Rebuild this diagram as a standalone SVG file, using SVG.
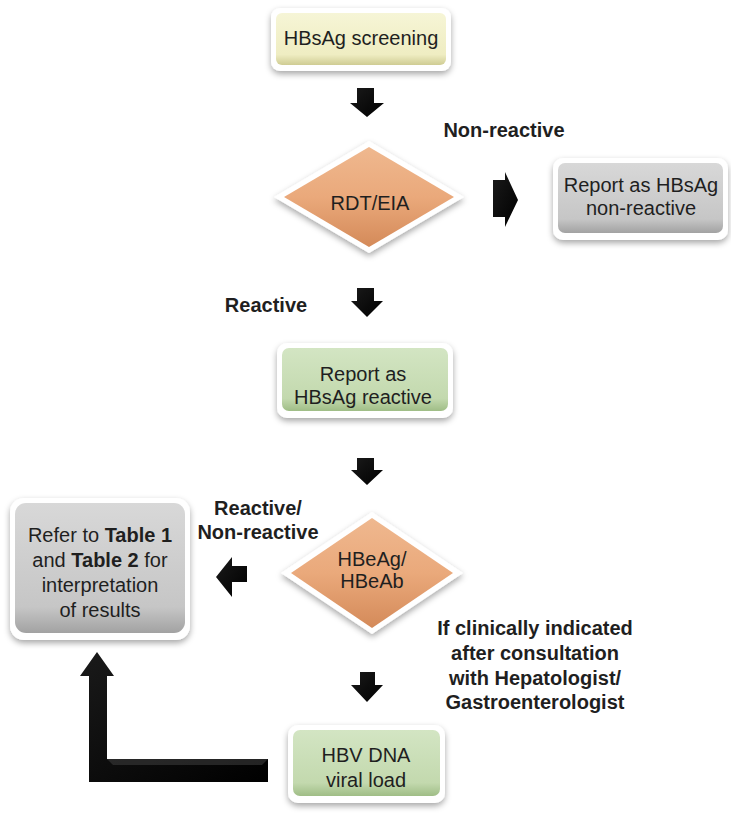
<svg xmlns="http://www.w3.org/2000/svg" width="731" height="813" viewBox="0 0 731 813">
<defs>
<filter id="sh" x="-20%" y="-20%" width="140%" height="150%">
<feDropShadow dx="0" dy="3" stdDeviation="3" flood-color="#000" flood-opacity="0.35"/>
</filter>
<linearGradient id="gY" x1="0" y1="0" x2="0" y2="1">
<stop offset="0" stop-color="#f6f5d6"/><stop offset="0.8" stop-color="#efedc2"/><stop offset="1" stop-color="#cfcc93"/>
</linearGradient>
<linearGradient id="gG" x1="0" y1="0" x2="0" y2="1">
<stop offset="0" stop-color="#d3e5c3"/><stop offset="0.8" stop-color="#c3d9ae"/><stop offset="1" stop-color="#9fbd86"/>
</linearGradient>
<linearGradient id="gR" x1="0" y1="0" x2="0" y2="1">
<stop offset="0" stop-color="#d8d8d8"/><stop offset="0.8" stop-color="#c6c6c6"/><stop offset="1" stop-color="#a2a2a2"/>
</linearGradient>
<linearGradient id="gO" x1="0" y1="0" x2="0" y2="1">
<stop offset="0" stop-color="#efb88f"/><stop offset="0.5" stop-color="#eaa97b"/><stop offset="1" stop-color="#d48a59"/>
</linearGradient>
<linearGradient id="gA" x1="0" y1="0" x2="1" y2="1">
<stop offset="0" stop-color="#1a1a1a"/><stop offset="1" stop-color="#000"/>
</linearGradient>
</defs>
<style>
.outer{fill:#fff;filter:url(#sh)}
.t{font-family:"Liberation Sans",Arial,sans-serif;font-size:20px;fill:#1f1f1f;text-anchor:middle}
.b{font-family:"Liberation Sans",Arial,sans-serif;font-size:20px;font-weight:bold;fill:#1f1f1f;text-anchor:middle}
.arr{fill:url(#gA)}
</style>
<g id="connectors">
<polygon class="arr" points="357,88 374,88 374,103 384,103 367,117 350,103 357,103"/>
<polygon class="arr" points="493,180 505,180 505,172 518,200 505,227 505,217 493,217"/>
<polygon class="arr" points="357,288 374,288 374,301 383,301 367,317 351,301 357,301"/>
<polygon class="arr" points="357,458 374,458 374,470 383,470 367,485 351,470 357,470"/>
<polygon class="arr" points="247,566 232,566 232,557 216,577 232,597 232,582 247,582"/>
<polygon class="arr" points="360,672 375,672 375,685 383,685 367,702 351,685 360,685"/>
<polygon class="arr" points="268,759 268,782 89,782 89,676 80,676 97,652 114,676 107,676 107,759"/>
<polygon fill="#3a3a3a" opacity="0.6" points="107,759 268,759 262,765 113,765"/>
</g>
<g id="n1">
<rect class="outer" x="271" y="8" width="180" height="63" rx="9"/>
<rect x="276" y="13" width="170" height="52" rx="6" fill="url(#gY)"/>
<text class="t" x="361" y="45">HBsAg screening</text>
</g>
<g id="n2">
<polygon class="outer" points="369,141 464,197 369,253 274,197"/>
<polygon points="369,147 454,197 369,247 284,197" fill="url(#gO)"/>
<text class="t" x="370" y="210">RDT/EIA</text>
</g>
<g id="n3">
<rect class="outer" x="553" y="158" width="175" height="82" rx="10"/>
<rect x="558" y="163" width="165" height="70" rx="7" fill="url(#gR)"/>
<text class="t" x="641" y="192">Report as HBsAg</text>
<text class="t" x="641" y="215">non-reactive</text>
</g>
<g id="n4">
<rect class="outer" x="277" y="343" width="176" height="75" rx="10"/>
<rect x="282" y="348" width="166" height="63" rx="7" fill="url(#gG)"/>
<text class="t" x="363" y="381">Report as</text>
<text class="t" x="363" y="404">HBsAg reactive</text>
</g>
<g id="n5">
<polygon class="outer" points="372,512 463,573 372,634 281,573"/>
<polygon points="372,518 453,573 372,628 291,573" fill="url(#gO)"/>
<text class="t" x="372" y="566">HBeAg/</text>
<text class="t" x="372" y="588">HBeAb</text>
</g>
<g id="n6">
<rect class="outer" x="10" y="498" width="180" height="142" rx="14"/>
<rect x="15" y="503" width="170" height="130" rx="11" fill="url(#gR)"/>
<text class="t" x="100" y="542">Refer to <tspan font-weight="bold">Table 1</tspan></text>
<text class="t" x="100" y="567">and <tspan font-weight="bold">Table 2</tspan> for</text>
<text class="t" x="100" y="592">interpretation</text>
<text class="t" x="100" y="617">of results</text>
</g>
<g id="n7">
<rect class="outer" x="288" y="725" width="157" height="78" rx="10"/>
<rect x="293" y="730" width="147" height="66" rx="7" fill="url(#gG)"/>
<text class="t" x="366" y="762">HBV DNA</text>
<text class="t" x="366" y="787">viral load</text>
</g>
<g id="labels">
<text class="b" x="504" y="137">Non-reactive</text>
<text class="b" x="266" y="312">Reactive</text>
<text class="b" x="258" y="515">Reactive/</text>
<text class="b" x="258" y="539">Non-reactive</text>
<text class="b" x="535" y="635">If clinically indicated</text>
<text class="b" x="535" y="660">after consultation</text>
<text class="b" x="535" y="685">with Hepatologist/</text>
<text class="b" x="535" y="709">Gastroenterologist</text>
</g>
</svg>
